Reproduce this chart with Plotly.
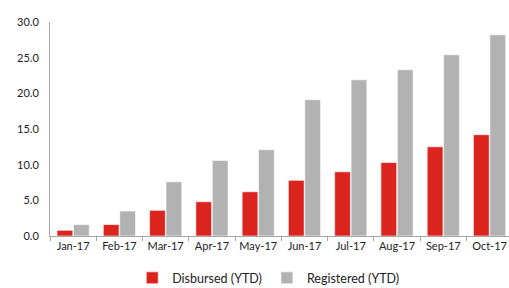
import plotly.graph_objects as go

months = ["Jan-17", "Feb-17", "Mar-17", "Apr-17", "May-17", "Jun-17", "Jul-17", "Aug-17", "Sep-17", "Oct-17"]
disbursed = [0.8, 1.6, 3.6, 4.8, 6.2, 7.8, 9.0, 10.3, 12.5, 14.2]
registered = [1.6, 3.5, 7.6, 10.6, 12.1, 19.1, 21.9, 23.3, 25.4, 28.2]

fig = go.Figure()
fig.add_trace(go.Bar(x=months, y=disbursed, name="Disbursed (YTD)",
                     marker=dict(color="#DC241F", line=dict(color="white", width=0.6))))
fig.add_trace(go.Bar(x=months, y=registered, name="Registered (YTD)",
                     marker=dict(color="#B2B2B2", line=dict(color="white", width=0.6))))

fig.update_layout(
    width=509, height=288,
    margin=dict(l=50, r=0, t=22, b=52),
    paper_bgcolor="white", plot_bgcolor="white",
    barmode="group", bargap=0.29, bargroupgap=0.04,
    font=dict(family="Lato, Open Sans, sans-serif", size=11, color="#222222"),
    showlegend=True,
    legend=dict(orientation="h", x=0.527, xref="container", xanchor="center",
                y=0.034, yref="container", yanchor="middle",
                font=dict(size=12.5), itemwidth=30, traceorder="normal"),
    xaxis=dict(range=[-0.5, 9.42], showline=True, linecolor="#A6A6A6", linewidth=1,
               ticks="outside", tickson="boundaries", ticklen=4, tickcolor="#A6A6A6",
               showgrid=False, tickangle=0, automargin=False, tickfont=dict(size=11)),
    yaxis=dict(range=[0, 30], dtick=5, tickformat=".1f", showline=True, linecolor="#A6A6A6",
               linewidth=1, showgrid=False, zeroline=False, ticks="", ticklabelstandoff=8,
               automargin=False, tickfont=dict(size=11)),
)

fig.write_html("out.html", config={"displayModeBar": False},
               post_script="document.body.style.margin='0';document.body.style.overflow='hidden';")
